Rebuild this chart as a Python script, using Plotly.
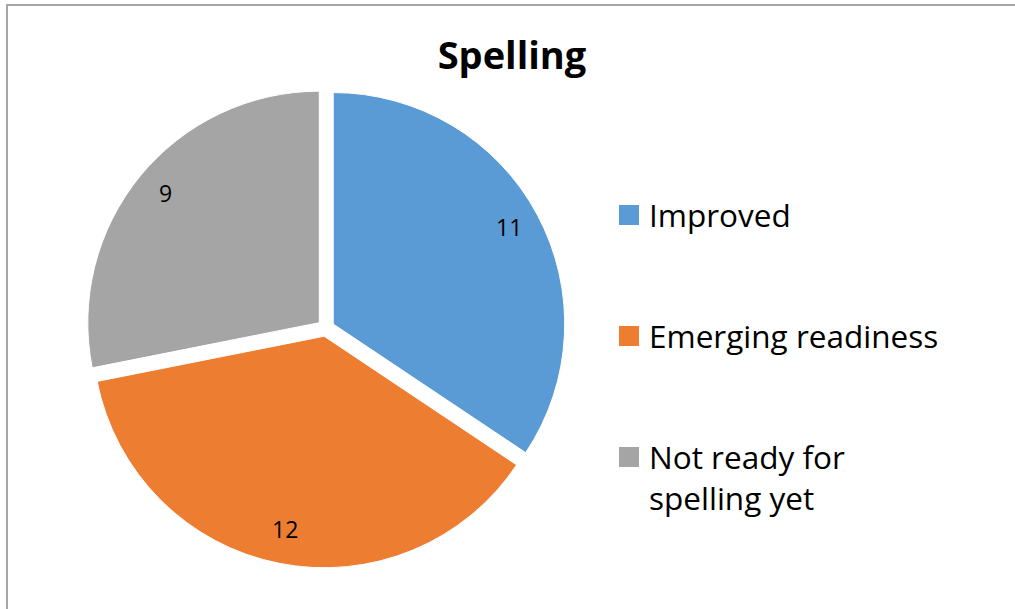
import math
import plotly.graph_objects as go

# ---- data ----
categories = ["Improved", "Emerging readiness", "Not ready for spelling yet"]
legend_labels = ["Improved", "Emerging readiness", "Not ready for<br>spelling yet"]
values = [11, 12, 9]
colors = ["#5B9BD5", "#ED7D31", "#A5A5A5"]
title_text = "Spelling"

W, H = 1015, 609
FONT = "Open Sans"

# pie geometry (pixels)
cx, cy = 325.8, 328.0
R = 231.5
PULL = 0.0363
half = R * (1 + PULL)
dom_x = [(cx - half) / W, (cx + half) / W]
dom_y = [1 - (cy + half) / H, 1 - (cy - half) / H]

fig = go.Figure()
fig.add_trace(go.Pie(
    labels=categories,
    values=values,
    sort=False,
    direction="clockwise",
    rotation=0,
    pull=[PULL] * len(values),
    marker=dict(colors=colors, line=dict(color="white", width=1)),
    textinfo="none",
    hoverinfo="label+value",
    showlegend=False,
    domain=dict(x=dom_x, y=dom_y),
))

# legend entries (square swatches)
for i, (lab, col) in enumerate(zip(legend_labels, colors)):
    fig.add_trace(go.Scatter(
        x=[None], y=[None], mode="markers", name=lab,
        legendgroup=f"g{i}",
        marker=dict(symbol="square", size=16, color=col, line=dict(color=col, width=4)),
        showlegend=True,
    ))

# data labels computed from values
total = sum(values)
cum = 0
for v in values:
    mid = (cum + v / 2) / total * 2 * math.pi
    cum += v
    d = 0.86 * R + PULL * R
    px = cx + d * math.sin(mid)
    py = cy - d * math.cos(mid) - 3
    fig.add_annotation(
        x=px / W, y=1 - py / H, xref="paper", yref="paper",
        text=str(v), showarrow=False,
        font=dict(family=FONT, size=23, color="black"),
        xanchor="center", yanchor="middle",
    )

# chart border (top and left)
fig.add_shape(type="path", xref="paper", yref="paper",
              path=f"M {7/W} 0 L {7/W} {1-5/H} L 1 {1-5/H}",
              line=dict(color="#A6A6A6", width=2))

fig.update_layout(
    width=W, height=H, autosize=False,
    margin=dict(l=0, r=0, t=0, b=0),
    paper_bgcolor="white", plot_bgcolor="white",
    title=dict(text=f"<b>{title_text}</b>", x=512 / W, xanchor="center",
               y=1 - 56 / H, yanchor="middle", yref="container",
               font=dict(family=FONT, size=38, color="black")),
    xaxis=dict(visible=False), yaxis=dict(visible=False),
    legend=dict(x=609 / W, xanchor="left", y=1 - 188 / H, yanchor="top",
                traceorder="grouped", tracegroupgap=77, valign="top",
                font=dict(family=FONT, size=31.5, color="black"),
                bgcolor="rgba(0,0,0,0)"),
)

fig.write_html("out.html")
